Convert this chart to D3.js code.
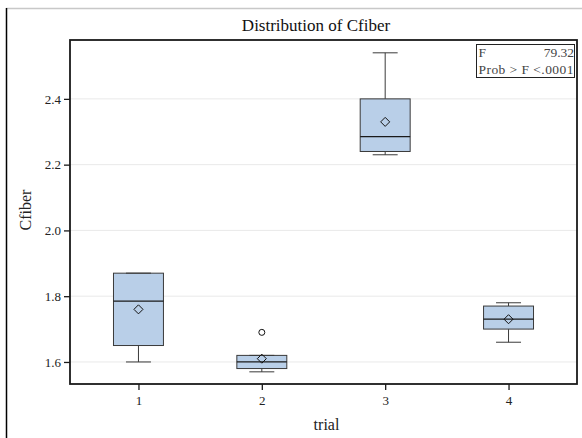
<!DOCTYPE html>
<html>
<head>
<meta charset="utf-8">
<script src="https://cdn.jsdelivr.net/npm/d3@7"></script>
<style>
  html, body { margin: 0; padding: 0; background: #fff; }
  svg { display: block; }
  text { font-family: "Liberation Serif", "DejaVu Serif", serif; }
</style>
</head>
<body>
<svg id="chart" width="582" height="438"></svg>
<script>
// Box plot summary of Cfiber by trial
const trials    = ["1", "2", "3", "4"];
const whiskerLo = [1.60, 1.57, 2.23, 1.66];
const q1        = [1.65, 1.58, 2.24, 1.70];
const median    = [1.785, 1.60, 2.285, 1.73];
const q3        = [1.87, 1.62, 2.40, 1.77];
const whiskerHi = [1.87, 1.62, 2.54, 1.78];
const means     = [1.76, 1.61, 2.33, 1.73];
const outliers  = [[], [1.69], [], []];
const yTicks    = [1.6, 1.8, 2.0, 2.2, 2.4];
const statLabels = ["F", "Prob > F"];
const statValues = ["79.32", "<.0001"];

const svg = d3.select("#chart");
const W = 582, H = 438;
const m = { left: 70, right: 5, top: 40, bottom: 54 };
const iw = W - m.left - m.right, ih = H - m.top - m.bottom;

// page frame
svg.append("line").attr("x1", 6).attr("x2", W).attr("y1", 8.5).attr("y2", 8.5)
  .attr("stroke", "#c8c8c8").attr("stroke-width", 1.5);
svg.append("line").attr("x1", 6.5).attr("x2", 6.5).attr("y1", 8).attr("y2", H)
  .attr("stroke", "#000").attr("stroke-width", 1.5);

const x = d3.scalePoint().domain(trials).range([m.left, m.left + iw]).padding(0.555);
const y = d3.scaleLinear().domain([1.533, 2.579]).range([m.top + ih, m.top]);
const boxW = x.step() * 0.405;

// gridlines
svg.append("g").selectAll("line").data(yTicks).join("line")
  .attr("x1", m.left).attr("x2", m.left + iw)
  .attr("y1", d => y(d)).attr("y2", d => y(d))
  .attr("stroke", "#e9e9e9").attr("stroke-width", 1);

// boxes
const data = trials.map((t, i) => ({
  t, lo: whiskerLo[i], q1: q1[i], med: median[i], q3: q3[i], hi: whiskerHi[i],
  mean: means[i], out: outliers[i]
}));

const g = svg.append("g").selectAll("g").data(data).join("g");
const stroke = "#3a3a3a";
// whiskers
g.append("line").attr("x1", d => x(d.t)).attr("x2", d => x(d.t))
  .attr("y1", d => y(d.hi)).attr("y2", d => y(d.q3)).attr("stroke", stroke);
g.append("line").attr("x1", d => x(d.t)).attr("x2", d => x(d.t))
  .attr("y1", d => y(d.q1)).attr("y2", d => y(d.lo)).attr("stroke", stroke);
// box
g.append("rect")
  .attr("x", d => x(d.t) - boxW / 2).attr("width", boxW)
  .attr("y", d => y(d.q3)).attr("height", d => y(d.q1) - y(d.q3))
  .attr("fill", "#b9cfe8").attr("stroke", stroke).attr("stroke-width", 1);
// caps
["lo", "hi"].forEach(k => {
  g.append("line")
    .attr("x1", d => x(d.t) - boxW / 4).attr("x2", d => x(d.t) + boxW / 4)
    .attr("y1", d => y(d[k])).attr("y2", d => y(d[k]))
    .attr("stroke", stroke);
});
// median
g.append("line")
  .attr("x1", d => x(d.t) - boxW / 2).attr("x2", d => x(d.t) + boxW / 2)
  .attr("y1", d => y(d.med)).attr("y2", d => y(d.med))
  .attr("stroke", "#1a1a1a").attr("stroke-width", 1.2);
// mean diamond
g.append("path")
  .attr("d", d3.symbol(d3.symbolDiamond2, 52))
  .attr("transform", d => `translate(${x(d.t)},${y(d.mean)})`)
  .attr("fill", "none").attr("stroke", "#111").attr("stroke-width", 1);
// outliers
g.each(function (d) {
  d3.select(this).selectAll("circle").data(d.out).join("circle")
    .attr("cx", x(d.t)).attr("cy", v => y(v)).attr("r", 3)
    .attr("fill", "none").attr("stroke", "#111").attr("stroke-width", 1);
});

// plot frame
svg.append("rect").attr("x", m.left).attr("y", m.top).attr("width", iw).attr("height", ih)
  .attr("fill", "none").attr("stroke", "#1a1a1a").attr("stroke-width", 1.8);

// axes
const xAxis = svg.append("g").attr("transform", `translate(0,${m.top + ih})`)
  .call(d3.axisBottom(x).tickSize(6).tickPadding(6));
const yAxis = svg.append("g").attr("transform", `translate(${m.left},0)`)
  .call(d3.axisLeft(y).tickValues(yTicks).tickFormat(d3.format(".1f")).tickSize(6).tickPadding(3));
[xAxis, yAxis].forEach(a => {
  a.select(".domain").remove();
  a.selectAll(".tick line").attr("stroke", "#1a1a1a").attr("stroke-width", 1.3);
  a.selectAll(".tick text").attr("font-family", "Liberation Serif, serif")
    .attr("font-size", 13).attr("fill", "#222");
});

// titles
svg.append("text").attr("x", 316).attr("y", 31).attr("text-anchor", "middle")
  .attr("font-size", 17).attr("fill", "#111").text("Distribution of Cfiber");
svg.append("text").attr("x", m.left + iw / 2 + 3).attr("y", 430).attr("text-anchor", "middle")
  .attr("font-size", 16).attr("fill", "#222").text("trial");
svg.append("text").attr("transform", `translate(31,${m.top + ih / 2 - 2}) rotate(-90)`)
  .attr("text-anchor", "middle").attr("font-size", 16).attr("fill", "#222").text("Cfiber");

// statistics inset
const ins = svg.append("g");
ins.append("rect").attr("x", 476.5).attr("y", 44.5).attr("width", 98).attr("height", 33)
  .attr("fill", "#fff").attr("stroke", "#222").attr("stroke-width", 1);
ins.append("text").attr("x", 478.5).attr("y", 57).attr("font-size", 13.5).attr("fill", "#444")
  .text(statLabels[0]);
ins.append("text").attr("x", 574).attr("y", 57).attr("text-anchor", "end")
  .attr("font-size", 13.5).attr("fill", "#444").text(statValues[0]);
ins.append("text").attr("x", 478.5).attr("y", 74).attr("font-size", 13.5).attr("fill", "#444")
  .attr("textLength", 95).attr("lengthAdjust", "spacing")
  .text(statLabels[1] + " " + statValues[1]);
</script>
</body>
</html>
